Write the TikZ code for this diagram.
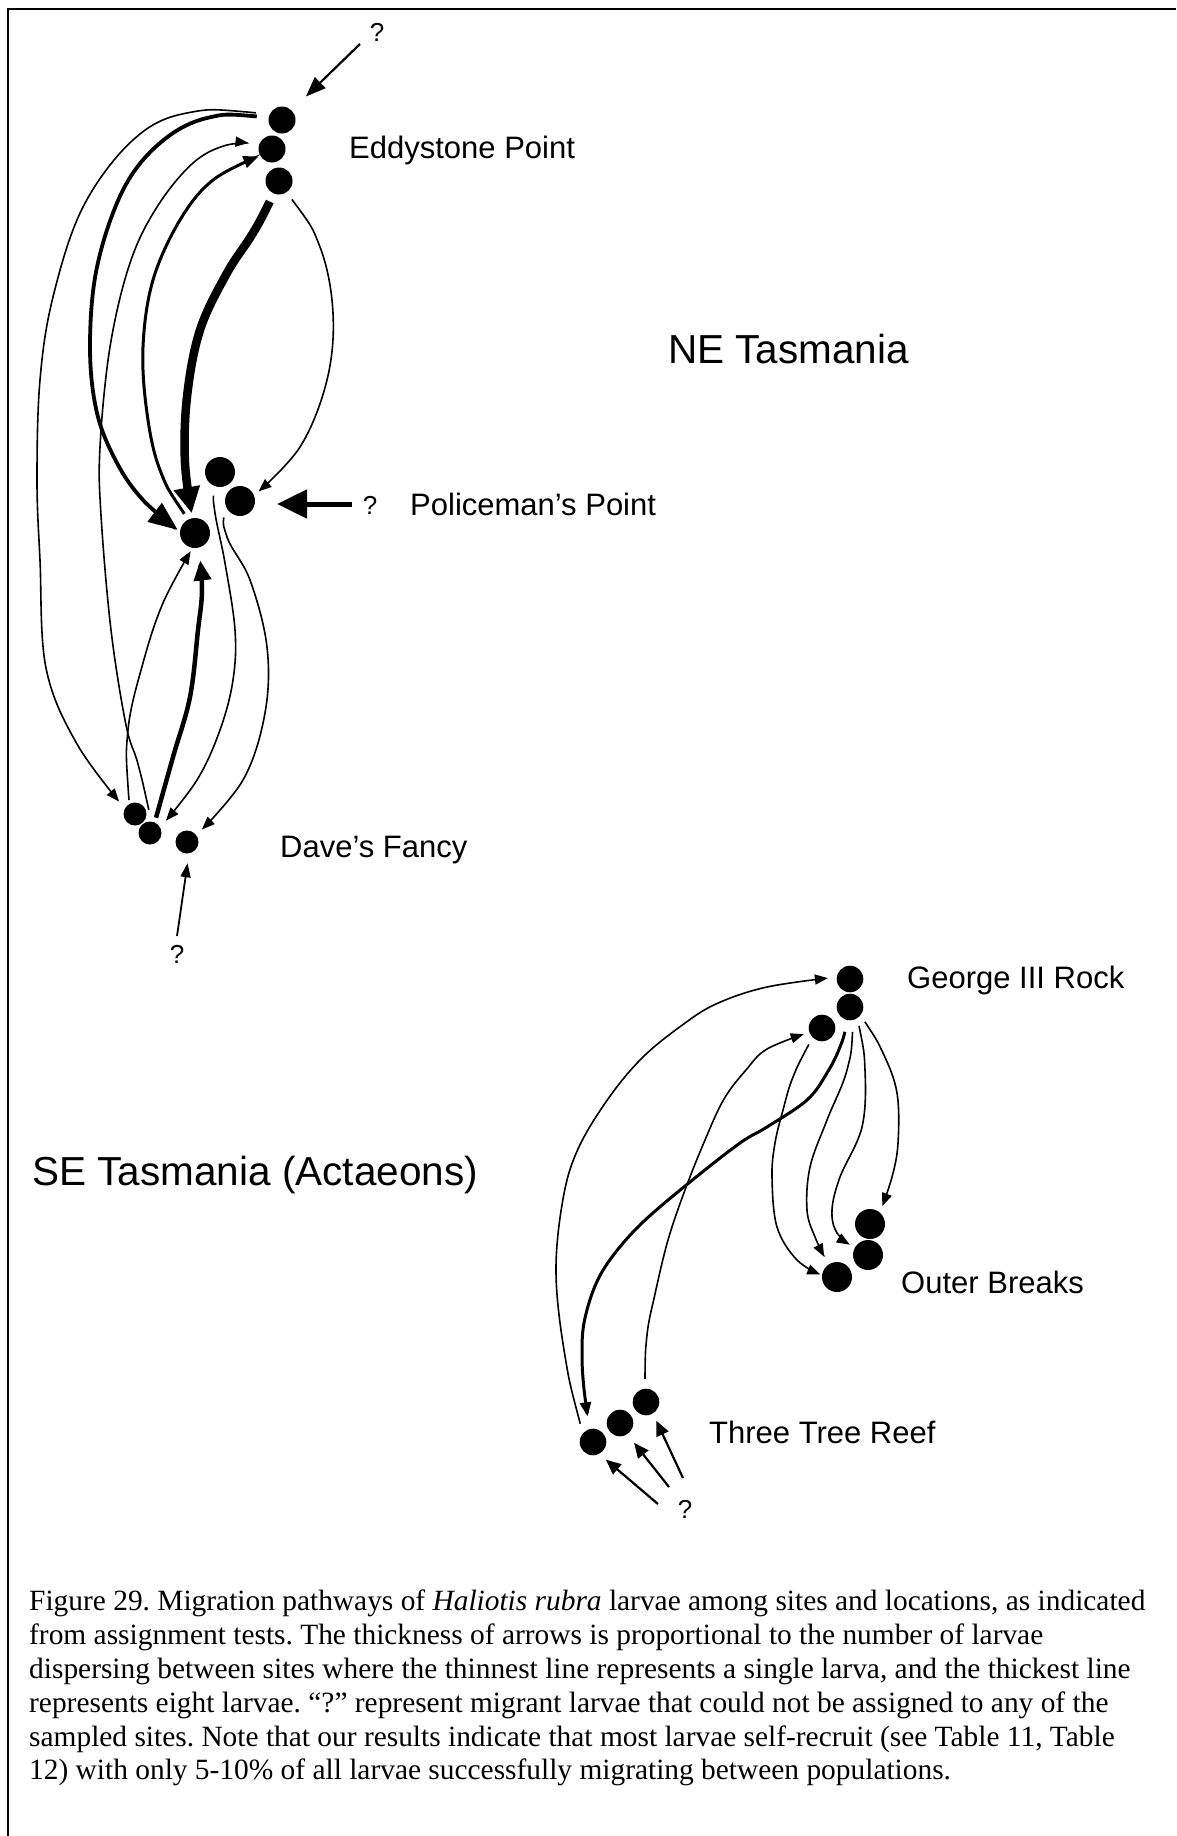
\documentclass[tikz,border=0pt]{standalone}
\usepackage{fontspec}
\setmainfont{Liberation Serif}
\newfontfamily\arialf{Liberation Sans}
\usetikzlibrary{arrows.meta}
\frenchspacing
\begin{document}
\begin{tikzpicture}[x=1pt,y=-1pt,
  site/.style={circle,fill=black,inner sep=0pt,outer sep=0pt,minimum size=#1},
  site/.default=27pt,
  lbl/.style={font=\arialf\fontsize{31}{36}\selectfont,anchor=base west,inner sep=0pt},
  region/.style={font=\arialf\fontsize{40.5}{48}\selectfont,anchor=base west,inner sep=0pt},
  qm/.style={font=\arialf\fontsize{26}{30}\selectfont,anchor=base,inner sep=0pt},
  lk/.style={line width=1.6pt,-{Triangle[length=13pt,width=10pt]}},
  lkq/.style={line width=2.2pt,-{Triangle[length=15pt,width=13pt]}},
  lkm/.style={line width=3pt,-{Triangle[length=15pt,width=12pt]}},
  lkb/.style={line width=3.8pt,-{Triangle[length=29pt,width=23pt]}},
  lkc/.style={line width=4.5pt,-{Triangle[length=20pt,width=17pt]}},
  lkd/.style={line width=8.5pt,-{Triangle[length=26pt,width=25pt]}},
  lke/.style={line width=5pt,-{Triangle[length=30pt,width=28pt]}},
  sm/.style={smooth,tension=0.6}
]
\useasboundingbox (0,0) rectangle (1176,1836);
\fill[white] (0,0) rectangle (1176,1836);
\draw[line width=2.5pt] (8,1836) -- (8,9) -- (1176,9);

% ---------- sites NE ----------
\node[site] (E1) at (282,120) {};
\node[site] (E2) at (272,149) {};
\node[site] (E3) at (279,181) {};
\node[site=30pt] (P1) at (220,472) {};
\node[site=30pt] (P2) at (240,501) {};
\node[site=30pt] (P3) at (195,533) {};
\node[site=23pt] (D1) at (135,814) {};
\node[site=23pt] (D2) at (150,833) {};
\node[site=23pt] (D3) at (187,842) {};
% ---------- sites SE ----------
\node[site=26.6pt] (G1) at (850,979) {};
\node[site=26.6pt] (G2) at (850,1007) {};
\node[site=26.6pt] (G3) at (822,1028) {};
\node[site=30pt] (O1) at (870,1224) {};
\node[site=30pt] (O2) at (868,1255) {};
\node[site=30pt] (O3) at (837,1277) {};
\node[site=26.6pt] (T1) at (646,1402) {};
\node[site=26.6pt] (T2) at (620,1423) {};
\node[site=26.6pt] (T3) at (593,1442) {};

% ---------- labels ----------
\node[lbl] (lE) at (349,158) {Eddystone Point};
\node[lbl] (lP) at (410,515) {Policeman’s Point};
\node[lbl] (lD) at (280,857) {Dave’s Fancy};
\node[lbl] (lG) at (907,988) {George III Rock};
\node[lbl] (lO) at (901,1293) {Outer Breaks};
\node[lbl] (lT) at (709,1443) {Three Tree Reef};
\node[region] (rNE) at (668,363) {NE Tasmania};
\node[region] (rSE) at (32,1185) {SE Tasmania (Actaeons)};
\node[qm] (qE) at (377,42) {?};
\node[qm] (qP) at (370,514) {?};
\node[qm] (qD) at (177,963) {?};
\node[qm] (qT) at (685,1518) {?};
\coordinate (tE) at (360,44);
\coordinate (tP) at (352,504);
\coordinate (tD) at (177,936);
\coordinate (tT1) at (683,1478);
\coordinate (tT2) at (669,1487);
\coordinate (tT3) at (658,1504);

% ---------- NE connectors ----------
\draw[lk,shorten <=14pt,shorten >=9pt] plot[sm] coordinates {(E1.154) (187,113) (133,140) (83,207) (53,297) (40,380) (37,480) (40,560) (46,668) (77,744) (D1.151)};
\draw[lkb,shorten <=12pt,shorten >=3pt] plot[sm] coordinates {(E1.169) (207,118) (160,143) (123,190) (97,267) (90,347) (97,413) (117,463) (143,500) (P3.175)};
\draw[lk,shorten <=12pt,shorten >=11pt] plot[sm] coordinates {(D2.83) (138,764) (126,725) (111,630) (101,515) (100,447) (110,347) (130,263) (157,207) (193,163) (227,145) (E2.159)};
\draw[lkm,shorten <=7pt,shorten >=2pt] plot[sm] coordinates {(P3.117) (160,470) (147,413) (143,347) (153,280) (180,220) (213,180) (E2.210)};
\draw[lkd,shorten <=9pt,shorten >=5pt] plot[sm] coordinates {(E3.247) (253,233) (227,273) (200,330) (187,397) (185,463) (P3.99)};
\draw[lk,shorten <=9pt,shorten >=6pt] plot[sm] coordinates {(E3.304) (320,247) (333,313) (327,380) (300,447) (P2.22)};
\draw[lke,shorten >=22pt] (tP) -- (P2.east |- tP);
\draw[lkq,shorten >=20pt,-{Triangle[length=20pt,width=15pt]}] (tE) -- (E1.45);
\draw[lk,shorten <=10pt,shorten >=9pt] plot[sm] coordinates {(P1.246) (215,513) (225,563) (235,630) (233,680) (220,730) (197,780) (D2.29)};
\draw[lk,shorten <=13pt,shorten >=8pt] plot[sm] coordinates {(P2.194) (227,537) (250,580) (267,647) (265,713) (243,780) (D3.37)};
\draw[lkc,shorten <=5pt,shorten >=13pt] plot[sm] coordinates {(D2.66) (173,757) (190,697) (198,630) (202,590) (P3.284)};
\draw[lk,shorten <=4pt,shorten >=4pt] plot[sm] coordinates {(D1.120) (128,730) (143,663) (163,603) (P3.261)};
\draw[lk,line width=1.8pt,-{Triangle[length=14pt,width=10pt]},shorten >=10pt] (tD) -- (D3.280);

% ---------- SE connectors ----------
\draw[lk,shorten <=10pt,shorten >=9pt] plot[sm] coordinates {(T3.140) (565,1356) (556,1273) (563,1199) (578,1149) (608,1099) (642,1058) (681,1026) (716,1004) (767,987) (G1.172)};
\draw[lk,shorten <=10pt,shorten >=6pt] plot[sm] coordinates {(T1.95) (647,1335) (655,1294) (668,1240) (685,1190) (705,1140) (724,1099) (746,1070) (767,1049) (G3.199)};
\draw[lkm,-{Triangle[length=14pt,width=11pt]},shorten <=12pt,shorten >=13pt] plot[sm] coordinates {(G2.259) (840,1047) (827,1073) (807,1100) (767,1127) (740,1143) (690,1182) (642,1223) (612,1257) (595,1286) (584,1323) (582,1356) (584,1389) (T3.105)};
\draw[lk,shorten <=8pt,shorten >=2pt] plot[sm] coordinates {(G3.225) (793,1077) (783,1110) (775,1143) (772,1177) (777,1227) (797,1260) (O3.173)};
\draw[lk,shorten <=12pt,shorten >=9pt] plot[sm] coordinates {(G2.284) (847,1070) (827,1120) (810,1167) (807,1210) (815,1237) (O3.125)};
\draw[lk,shorten <=8pt,shorten >=6pt] plot[sm] coordinates {(G2.304) (865,1070) (862,1127) (840,1177) (832,1210) (837,1233) (O2.151)};
\draw[lk,shorten <=8pt,shorten >=7pt] plot[sm] coordinates {(G2.322) (883,1053) (897,1093) (898,1143) (892,1177) (O1.49)};
\draw[lkq,shorten >=8pt] (tT1) -- (T1.301);
\draw[lkq,shorten >=11pt] (tT2) -- (T2.303);
\draw[lkq,shorten >=9pt] (tT3) -- (T3.297);

% ---------- caption ----------
\node[anchor=north west,inner sep=0pt,align=left,font=\fontsize{29.4}{33.8}\selectfont] (cap) at (29,1590) {%
Figure 29. Migration pathways of \textit{Haliotis rubra} larvae among sites and locations, as indicated\\
from assignment tests. The thickness of arrows is proportional to the number of larvae\\
dispersing between sites where the thinnest line represents a single larva, and the thickest line\\
represents eight larvae. “?” represent migrant larvae that could not be assigned to any of the\\
sampled sites. Note that our results indicate that most larvae self-recruit (see Table 11, Table\\
12) with only 5-10\% of all larvae successfully migrating between populations.};
\end{tikzpicture}
\end{document}
